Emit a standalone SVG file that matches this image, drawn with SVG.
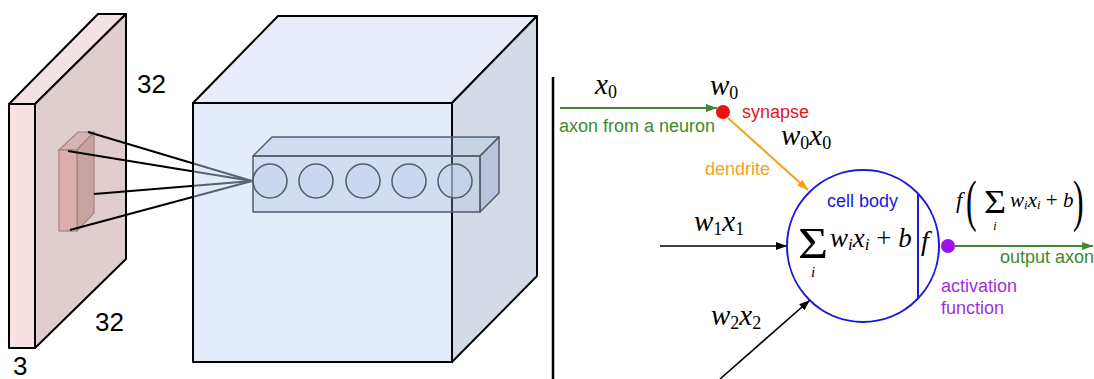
<svg xmlns="http://www.w3.org/2000/svg" width="1094" height="379" viewBox="0 0 1094 379">
<style>
.edge{stroke:#000;stroke-width:2;stroke-linejoin:round}
.lbl{font-family:"Liberation Sans",Arial,sans-serif;font-size:18px}
.num{font-family:"Liberation Sans",Arial,sans-serif;font-size:26px;fill:#000}
.m{font-family:"Liberation Serif","DejaVu Serif",serif;font-style:italic;fill:#000}
.up{font-style:normal}
.bar{stroke:#555c68;stroke-width:1.5;stroke-linejoin:round}
.neur{fill:#c3d2ef;fill-opacity:0.55;stroke:#555c68;stroke-width:1.5}
</style>
<defs>
<marker id="ag" markerUnits="userSpaceOnUse" markerWidth="12" markerHeight="10" refX="11" refY="5" orient="auto"><path d="M0,1 L11,5 L0,9 Z" fill="#3d8a2e"/></marker>
<marker id="ao" markerUnits="userSpaceOnUse" markerWidth="12" markerHeight="10" refX="11" refY="5" orient="auto"><path d="M0,1 L11,5 L0,9 Z" fill="#f2a21d"/></marker>
<marker id="ak" markerUnits="userSpaceOnUse" markerWidth="12" markerHeight="10" refX="11" refY="5" orient="auto"><path d="M0,1 L11,5 L0,9 Z" fill="#000"/></marker>
</defs>
<rect width="1094" height="379" fill="#fff"/>

<g id="input-volume">
<polygon points="9,104 98,14 126,14 35,104" fill="#f4e1e1" class="edge"/>
<polygon points="35,104 126,14 126,259 35,348" fill="#e0cdcd" class="edge"/>
<rect x="9" y="104" width="26" height="244" fill="#f6e2e2" class="edge"/>
</g>
<g id="receptive-field">
<polygon points="59,150 78,132 94,132 77,150" fill="#d9b3b3" stroke="#a88383" stroke-width="1.2"/>
<polygon points="77,150 94,132 94,213 77,231" fill="#c9a2a2" stroke="#a88383" stroke-width="1.2"/>
<rect x="59" y="150" width="18" height="81" fill="#dcaeae" stroke="#a88383" stroke-width="1.2"/>
</g>
<g id="connectors-left" stroke="#000" stroke-width="2" fill="none">
<line x1="88" y1="132" x2="252" y2="181"/>
<line x1="68" y1="151" x2="252" y2="181"/>
<line x1="94" y1="194" x2="252" y2="181"/>
<line x1="70" y1="230" x2="252" y2="181"/>
</g>
<g id="output-volume">
<polygon points="193,103 278,16 537,16 452,103" fill="#e8edf9" class="edge"/>
<polygon points="452,103 537,16 537,276 452,362" fill="#d5dbe6" class="edge"/>
<rect x="193" y="103" width="259" height="259" fill="#c4d3f1" fill-opacity="0.46" class="edge"/>
</g>
<g id="depth-column">
<polygon points="253,156 272,137 499,137 480,156" fill="#aabde6" fill-opacity="0.3" class="bar"/>
<polygon points="480,156 499,137 499,193 480,212" fill="#8fa3cc" fill-opacity="0.4" class="bar"/>
<rect x="253" y="156" width="227" height="56" fill="#a9bde6" fill-opacity="0.3" class="bar"/>
<circle cx="270" cy="181" r="17" class="neur"/>
<circle cx="316" cy="181" r="17" class="neur"/>
<circle cx="363" cy="181" r="17" class="neur"/>
<circle cx="409" cy="181" r="17" class="neur"/>
<circle cx="455" cy="181" r="17" class="neur"/>
</g>
<g id="dims">
<text class="num" x="137" y="93">32</text>
<text class="num" x="95" y="331">32</text>
<text class="num" x="13" y="375">3</text>
</g>

<line id="divider" x1="553" y1="77" x2="553" y2="379" stroke="#000" stroke-width="2.5"/>

<g id="connectors">
<line x1="560" y1="108" x2="717" y2="108" stroke="#3d8a2e" stroke-width="2" marker-end="url(#ag)"/>
<line x1="728" y1="118" x2="808" y2="190" stroke="#f2a21d" stroke-width="2" marker-end="url(#ao)"/>
<line x1="660" y1="246" x2="787" y2="246" stroke="#000" stroke-width="1.6" marker-end="url(#ak)"/>
<line x1="720" y1="379" x2="810" y2="300" stroke="#000" stroke-width="1.6" marker-end="url(#ak)"/>
<line x1="955" y1="246" x2="1093" y2="246" stroke="#3d8a2e" stroke-width="2" marker-end="url(#ag)"/>
</g>

<g id="synapse">
<circle cx="723" cy="112" r="7" fill="#ee1111"/>
<text class="lbl" x="742" y="118" fill="#e8141c">synapse</text>
<text class="m" x="710" y="95" font-size="29">w<tspan class="up" font-size="18" dy="4">0</tspan></text>
</g>
<g id="axon-in">
<text class="m" x="595" y="94" font-size="29">x<tspan class="up" font-size="18" dy="4">0</tspan></text>
<text class="lbl" x="559" y="132" fill="#3d8a2e">axon from a neuron</text>
</g>
<g id="dendrite">
<text class="lbl" x="705" y="175" fill="#f2a21d">dendrite</text>
<text class="m" x="781" y="145" font-size="29">w<tspan class="up" font-size="18" dy="4">0</tspan><tspan dy="-4">x</tspan><tspan class="up" font-size="18" dy="4">0</tspan></text>
</g>
<g id="input1">
<text class="m" x="694" y="231" font-size="29">w<tspan class="up" font-size="18" dy="4">1</tspan><tspan dy="-4">x</tspan><tspan class="up" font-size="18" dy="4">1</tspan></text>
</g>
<g id="input2">
<text class="m" x="711" y="325" font-size="29">w<tspan class="up" font-size="18" dy="4">2</tspan><tspan dy="-4">x</tspan><tspan class="up" font-size="18" dy="4">2</tspan></text>
</g>
<g id="cell-body">
<circle cx="863" cy="246" r="76" fill="none" stroke="#1a1ad8" stroke-width="2"/>
<line x1="918" y1="193" x2="918" y2="299" stroke="#1a1ad8" stroke-width="2"/>
<text class="lbl" x="827" y="207" fill="#1a1ad8">cell body</text>
<text class="m up" transform="translate(813,258) scale(1.15,1)" font-size="45" text-anchor="middle" font-style="normal">Σ</text>
<text class="m" x="813" y="277" font-size="15" text-anchor="middle">i</text>
<text class="m" x="830" y="247" font-size="27">w<tspan font-size="17" dy="3">i</tspan><tspan dy="-3">x</tspan><tspan font-size="17" dy="3">i</tspan><tspan class="up" dy="-3"> + </tspan>b</text>
<text class="m" x="921" y="250" font-size="28">f</text>
</g>
<g id="activation">
<circle cx="948" cy="246" r="7" fill="#9b12ee"/>
<text class="lbl" x="941" y="292" fill="#a030e0">activation</text>
<text class="lbl" x="941" y="314" fill="#a030e0">function</text>
<text class="m" x="956" y="208" font-size="23">f</text>
<text class="m up" transform="translate(966,220) scale(0.55,1)" font-size="58" font-style="normal">(</text>
<text class="m up" transform="translate(995,213) scale(1.15,1)" font-size="33" text-anchor="middle" font-style="normal">Σ</text>
<text class="m" x="995" y="230" font-size="12" text-anchor="middle">i</text>
<text class="m" x="1010" y="207" font-size="21">w<tspan font-size="13" dy="2">i</tspan><tspan dy="-2">x</tspan><tspan font-size="13" dy="2">i</tspan><tspan class="up" dy="-2"> + </tspan>b</text>
<text class="m up" transform="translate(1073,220) scale(0.55,1)" font-size="58" font-style="normal">)</text>
<text class="lbl" x="1000" y="263" fill="#3d8a2e">output axon</text>
</g>
</svg>
